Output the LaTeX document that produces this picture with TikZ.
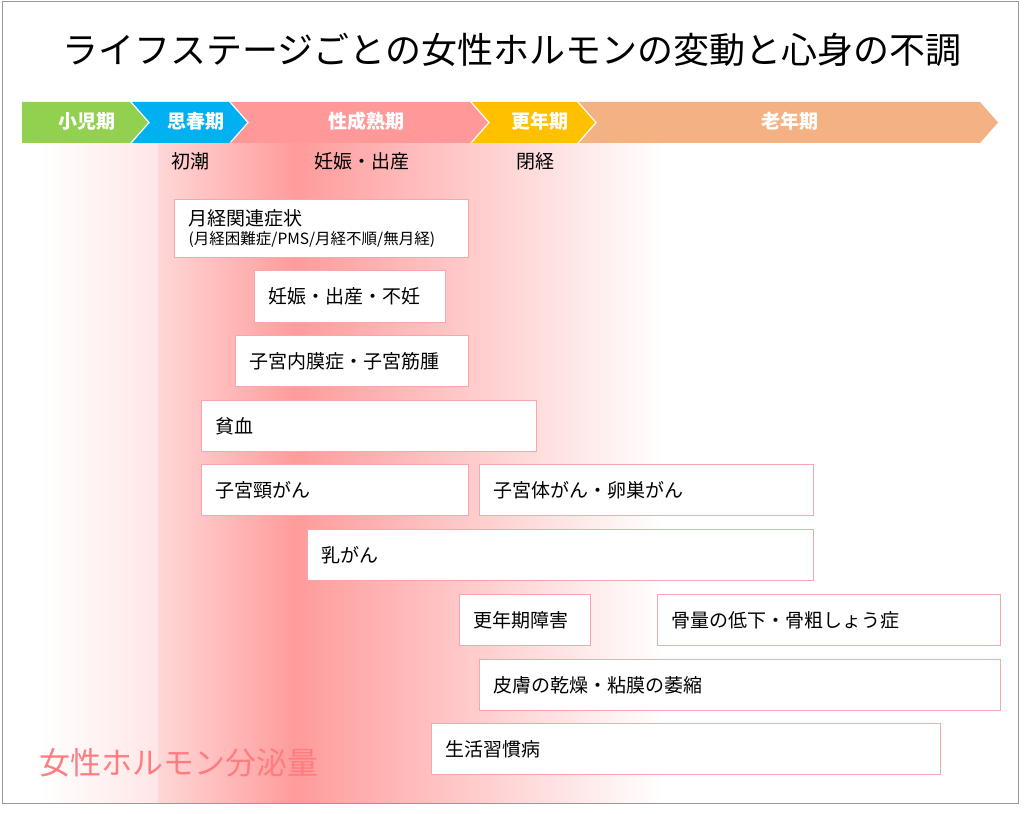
\documentclass[tikz,border=0pt]{standalone}
\usepackage{fontspec}
\setmainfont{Noto Sans CJK JP}
\definecolor{peakpink}{HTML}{FF9B9B}
\definecolor{boxline}{HTML}{F7A6AE}
\definecolor{kidgreen}{HTML}{92D050}
\definecolor{teenblue}{HTML}{00B0F0}
\definecolor{adultpink}{HTML}{FF9999}
\definecolor{menoyellow}{HTML}{FFC000}
\definecolor{oldpeach}{HTML}{F4B183}
\definecolor{glowpink}{HTML}{FF7C80}
\tikzset{
  illbox/.style={draw=boxline, line width=1.4pt, fill=white, anchor=north west,
    inner xsep=14pt, align=left, font=\fontsize{19}{22}\selectfont},
  stagelabel/.style={text=white, font=\bfseries\fontsize{19}{21}\selectfont},
  eventlabel/.style={font=\fontsize{19}{21}\selectfont}
}
% box: name, x, y, width, height, text
\newcommand{\illness}[6]{%
  \node[illbox, minimum width=#4pt, minimum height=#5pt, text width=#4pt-28pt] (#1) at (#2,#3) {#6};}
% chevron: from x, to x, colour
\newcommand{\stagearrow}[3]{%
  \fill[#3] (#1,102) -- (#2,102) -- (#2+18,122.5) -- (#2,143) -- (#1,143) -- (#1+18,122.5) -- cycle;}
\begin{document}
\begin{tikzpicture}[x=1pt, y=-1pt]
\useasboundingbox (0,0) rectangle (1024,813);
\fill[white] (0,0) rectangle (1024,813);

% hormone level background
\shade[left color=white, right color=peakpink!25] (40,143) rectangle (158,803);
\shade[left color=peakpink!40, right color=peakpink] (158,143) rectangle (296,803);
\shade[left color=peakpink, right color=white] (296,143) rectangle (662,803);
\draw[gray!80, line width=1pt] (2,2) rectangle (1018,803);

\node[font=\fontsize{36}{40}\selectfont] (title) at (512,50) {ライフステージごとの女性ホルモンの変動と心身の不調};

% life stages
\fill[kidgreen] (22,102) -- (130,102) -- (148,122.5) -- (130,143) -- (22,143) -- cycle;
\stagearrow{132}{229}{teenblue}
\stagearrow{231}{470}{adultpink}
\stagearrow{472}{577}{menoyellow}
\stagearrow{579}{980}{oldpeach}
\node[stagelabel] (kid) at (87,121) {小児期};
\node[stagelabel] (teen) at (196,121) {思春期};
\node[stagelabel] (adult) at (366,121) {性成熟期};
\node[stagelabel] (meno) at (540,121) {更年期};
\node[stagelabel] (old) at (790,121) {老年期};

\node[eventlabel] (menarche) at (190,161) {初潮};
\node[eventlabel] (birth) at (362,161) {妊娠・出産};
\node[eventlabel] (menopause) at (535,161) {閉経};

% troubles
\node[illbox, minimum width=294pt, minimum height=58pt, text width=266pt, inner ysep=3pt] (mens) at (174,199)
  {月経関連症状\\[-3pt]{\fontsize{15.5}{17}\selectfont (月経困難症/PMS/月経不順/無月経)}};
\illness{preg}{254}{270}{191}{52}{妊娠・出産・不妊}
\illness{endo}{235}{335}{233}{51}{子宮内膜症・子宮筋腫}
\illness{anemia}{201}{400}{335}{51}{貧血}
\illness{cervix}{201}{464}{267}{51}{子宮頸がん}
\illness{uterus}{479}{464}{334}{51}{子宮体がん・卵巣がん}
\illness{breast}{307}{529}{506}{51}{乳がん}
\illness{climac}{459}{594}{131}{51}{更年期障害}
\illness{bone}{657}{594}{343}{51}{骨量の低下・骨粗しょう症}
\illness{skin}{479}{659}{521}{51}{皮膚の乾燥・粘膜の萎縮}
\illness{life}{431}{723}{509}{51}{生活習慣病}

\node[text=glowpink, font=\fontsize{31}{34}\selectfont, anchor=west] (hormone) at (36,763) {女性ホルモン分泌量};
\end{tikzpicture}
\end{document}
